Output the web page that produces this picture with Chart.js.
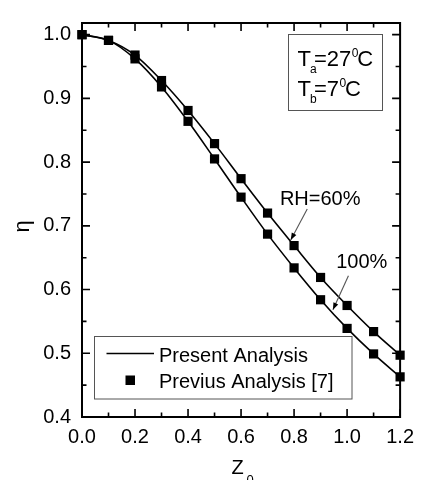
<!DOCTYPE html>
<html><head><meta charset="utf-8">
<script src="https://cdn.jsdelivr.net/npm/chart.js@4/dist/chart.umd.min.js"></script>
<style>html,body{margin:0;padding:0;background:#fff;}#wrap{width:422px;height:480px;position:relative;}</style>
</head><body><div id="wrap"><canvas id="c" width="422" height="480"></canvas></div>
<script>
// ---- data ----
const z0 = [0.0, 0.1, 0.2, 0.3, 0.4, 0.5, 0.6, 0.7, 0.8, 0.9, 1.0, 1.1, 1.2];
const eta60 = [1.000, 0.991, 0.968, 0.928, 0.881, 0.829, 0.774, 0.720, 0.669, 0.619, 0.575, 0.534, 0.497];
const eta100 = [1.000, 0.991, 0.962, 0.918, 0.864, 0.805, 0.745, 0.687, 0.634, 0.584, 0.539, 0.499, 0.463];
const xTicks = [0.0, 0.2, 0.4, 0.6, 0.8, 1.0, 1.2];
const xMinorTicks = [0.1, 0.3, 0.5, 0.7, 0.9, 1.1];
const yTicks = [0.4, 0.5, 0.6, 0.7, 0.8, 0.9, 1.0];
const yMinorTicks = [0.45, 0.55, 0.65, 0.75, 0.85, 0.95];
const legendLabels = ['Present Analysis', 'Previus Analysis [7]'];
const seriesLabels = ['RH=60%', '100%'];
const axisTitleX = ['Z', '0'];
const axisTitleY = 'η';

const FONT = '"Liberation Sans", Arial, Helvetica, sans-serif';
const pts = (ys) => z0.map((x, i) => ({x: x, y: ys[i]}));

function arrow(ctx, x1, y1, x2, y2) {
  ctx.beginPath(); ctx.moveTo(x1, y1); ctx.lineTo(x2, y2); ctx.stroke();
  const a = Math.atan2(y2 - y1, x2 - x1), L = 7, W = 2.6;
  ctx.beginPath();
  ctx.moveTo(x2, y2);
  ctx.lineTo(x2 - L*Math.cos(a) + W*Math.sin(a), y2 - L*Math.sin(a) - W*Math.cos(a));
  ctx.lineTo(x2 - L*Math.cos(a) - W*Math.sin(a), y2 - L*Math.sin(a) + W*Math.cos(a));
  ctx.closePath(); ctx.fill();
}

const decor = {
  id: 'decor',
  afterDatasetsDraw(chart) {
    const ctx = chart.ctx, ca = chart.chartArea, xs = chart.scales.x, ys = chart.scales.y;
    ctx.save();
    ctx.strokeStyle = '#000'; ctx.fillStyle = '#000';
    // frame
    ctx.lineWidth = 2;
    ctx.strokeRect(ca.left, ca.top, ca.right - ca.left, ca.bottom - ca.top);
    // inward ticks
    ctx.lineWidth = 1.6;
    const tick = (vals, len, axis) => {
      vals.forEach(v => {
        ctx.beginPath();
        if (axis === 'x') {
          const p = xs.getPixelForValue(v);
          ctx.moveTo(p, ca.bottom); ctx.lineTo(p, ca.bottom - len);
          ctx.moveTo(p, ca.top); ctx.lineTo(p, ca.top + len);
        } else {
          const p = ys.getPixelForValue(v);
          ctx.moveTo(ca.left, p); ctx.lineTo(ca.left + len, p);
          ctx.moveTo(ca.right, p); ctx.lineTo(ca.right - len, p);
        }
        ctx.stroke();
      });
    };
    tick(xTicks, 8, 'x'); tick(xMinorTicks, 4.5, 'x');
    tick(yTicks, 8, 'y'); tick(yMinorTicks, 4.5, 'y');

    // legend box
    ctx.fillStyle = '#fff';
    ctx.fillRect(94.5, 336.5, 257.5, 62.5);
    ctx.strokeStyle = '#555'; ctx.lineWidth = 1;
    ctx.strokeRect(94.5, 336.5, 257.5, 62.5);
    ctx.strokeStyle = '#000'; ctx.fillStyle = '#000';
    ctx.lineWidth = 1.6;
    ctx.beginPath(); ctx.moveTo(106.5, 353.5); ctx.lineTo(154, 353.5); ctx.stroke();
    ctx.fillRect(125.5, 375.5, 9.5, 9.5);
    ctx.font = '20px ' + FONT; ctx.textAlign = 'left'; ctx.textBaseline = 'alphabetic';
    ctx.fillText(legendLabels[0], 159, 361.5);
    ctx.fillText(legendLabels[1], 159, 388);

    // temperature box
    ctx.strokeStyle = '#555'; ctx.lineWidth = 1;
    ctx.strokeRect(288.5, 34.5, 94, 76);
    ctx.fillStyle = '#000';
    const big = '22px ' + FONT, small = '12px ' + FONT;
    const line = (y0, sub, rest) => {
      ctx.font = big; ctx.fillText('T', 297.5, y0);
      ctx.font = small; ctx.fillText(sub, 310, y0 + 7);
      ctx.font = big; ctx.fillText(rest, 314, y0);
      const w = ctx.measureText(rest).width;
      ctx.font = small; ctx.fillText('0', 314 + w + 0.5, y0 - 9);
      ctx.font = big; ctx.fillText('C', 314 + w + 6, y0);
    };
    line(65.5, 'a', '=27');
    line(95.5, 'b', '=7');

    // series annotations
    ctx.font = '20px ' + FONT;
    ctx.fillText(seriesLabels[0], xs.getPixelForValue(0.7465), ys.getPixelForValue(0.7324));
    ctx.fillText(seriesLabels[1], xs.getPixelForValue(0.9589), ys.getPixelForValue(0.6336));
    ctx.lineWidth = 1.1;
    arrow(ctx, xs.getPixelForValue(0.8497), ys.getPixelForValue(0.7263), xs.getPixelForValue(0.7875), ys.getPixelForValue(0.6779));
    arrow(ctx, xs.getPixelForValue(1.0051), ys.getPixelForValue(0.6218), xs.getPixelForValue(0.9466), ys.getPixelForValue(0.5684));

    // axis titles
    ctx.font = '20px ' + FONT; ctx.textAlign = 'left';
    ctx.fillText(axisTitleX[0], 231.5, 473.5);
    ctx.font = '13px ' + FONT;
    ctx.fillText(axisTitleX[1], 246.5, 484);
    ctx.save();
    ctx.translate(28.5, 226.5); ctx.rotate(-Math.PI/2);
    ctx.font = '22px ' + FONT; ctx.textAlign = 'center';
    ctx.fillText(axisTitleY, 0, 0);
    ctx.restore();
    ctx.restore();
  }
};

const tickFont = {family: FONT, size: 20};
new Chart(document.getElementById('c'), {
  type: 'scatter',
  data: {
    datasets: [
      {data: pts(eta60), showLine: true, borderColor: '#000', borderWidth: 1.6, pointRadius: 0, cubicInterpolationMode: 'monotone', clip: false},
      {data: pts(eta100), showLine: true, borderColor: '#000', borderWidth: 1.6, pointRadius: 0, cubicInterpolationMode: 'monotone', clip: false},
      {data: pts(eta60), showLine: false, pointStyle: 'rect', pointRadius: 6.5, backgroundColor: '#000', borderWidth: 0, clip: false},
      {data: pts(eta100), showLine: false, pointStyle: 'rect', pointRadius: 6.5, backgroundColor: '#000', borderWidth: 0, clip: false}
    ]
  },
  options: {
    responsive: false, animation: false, devicePixelRatio: 1,
    layout: {padding: {top: 12, right: 18, left: 0, bottom: 0}},
    plugins: {legend: {display: false}, tooltip: {enabled: false}},
    scales: {
      x: {
        type: 'linear', min: 0, max: 1.2,
        afterBuildTicks: s => { s.ticks = xTicks.map(v => ({value: v})); },
        afterFit: s => { s.height = 63; },
        ticks: {callback: v => Number(v).toFixed(1), font: tickFont, color: '#000', padding: 8, maxRotation: 0, autoSkip: false},
        grid: {display: false, drawTicks: false}, border: {display: false}
      },
      y: {
        type: 'linear', min: 0.4, max: 1.0183,
        afterBuildTicks: s => { s.ticks = yTicks.map(v => ({value: v})); },
        afterFit: s => { s.width = 82; },
        ticks: {callback: v => Number(v).toFixed(1), font: tickFont, color: '#000', padding: 11, autoSkip: false},
        grid: {display: false, drawTicks: false}, border: {display: false}
      }
    }
  },
  plugins: [decor]
});
</script></body></html>
